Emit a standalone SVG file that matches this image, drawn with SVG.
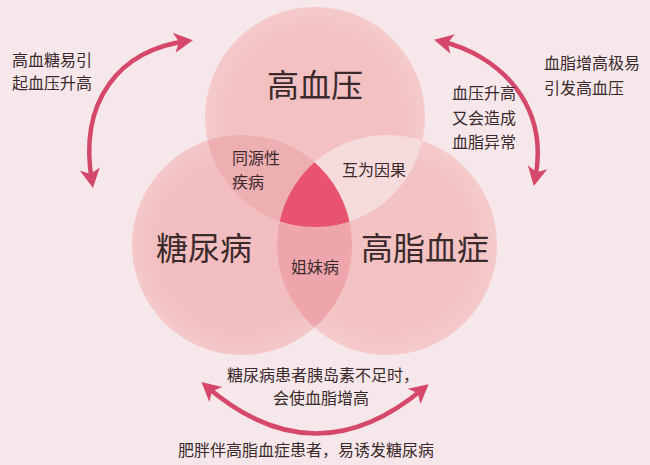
<svg xmlns="http://www.w3.org/2000/svg" width="650" height="465" viewBox="0 0 650 465">
<style>
.t{font-family:"Noto Sans CJK SC","Noto Sans CJK TC",sans-serif;fill:#3b2a2c;}
.big{font-size:32px;}
.sm{font-size:16px;}
.arr{fill:none;stroke:#d6486b;stroke-width:4.5;marker-start:url(#ah);marker-end:url(#ah);}
</style>
<defs>
<marker id="ah" viewBox="-20 -12 30 24" refX="0" refY="0" markerWidth="30" markerHeight="24" markerUnits="userSpaceOnUse" orient="auto-start-reverse">
<path d="M6,0 L-13,-10 L-8,0 L-13,10 Z" fill="#d6486b"/>
</marker>
<clipPath id="cTop"><circle cx="315" cy="117" r="110"/></clipPath>
<clipPath id="cLeft"><circle cx="242" cy="245" r="110"/></clipPath>
<radialGradient id="gTop" cx="0.5" cy="0.5" r="0.5"><stop offset="0.75" stop-color="#f3c1c2"/><stop offset="1" stop-color="#f5cacb"/></radialGradient>
<radialGradient id="gLeft" cx="0.5" cy="0.5" r="0.5"><stop offset="0.75" stop-color="#f2bebf"/><stop offset="1" stop-color="#f4c8c9"/></radialGradient>
<radialGradient id="gRight" cx="0.5" cy="0.5" r="0.5"><stop offset="0.75" stop-color="#f3c2c3"/><stop offset="1" stop-color="#f5cacb"/></radialGradient>
</defs>
<rect width="650" height="465" fill="#f6e8ea"/>
<g id="circles">
<circle id="c-left" cx="242" cy="245" r="110" fill="url(#gLeft)"/>
<circle id="c-right" cx="387" cy="245" r="110" fill="url(#gRight)"/>
<circle id="c-top" cx="315" cy="117" r="110" fill="url(#gTop)"/>
<circle id="ov-top-left" cx="242" cy="245" r="110" fill="#eeafb3" clip-path="url(#cTop)"/>
<circle id="ov-top-right" cx="387" cy="245" r="110" fill="#f6dbdc" clip-path="url(#cTop)"/>
<circle id="ov-left-right" cx="387" cy="245" r="110" fill="#eea6ac" clip-path="url(#cLeft)"/>
<g clip-path="url(#cTop)"><circle id="ov-center" cx="387" cy="245" r="110" fill="#e8536f" clip-path="url(#cLeft)"/></g>
</g>
<g id="connectors">
<path class="arr" d="M187,41 C120,50 78,100 92,182"/>
<path class="arr" d="M440,41 C500,55 550,105 535,180"/>
<path class="arr" d="M206,386 Q315,480 424,388"/>
</g>
<g id="node-gxy"><text class="t big" x="315" y="97" text-anchor="middle">高血压</text></g>
<g id="node-tnb"><text class="t big" x="204" y="260" text-anchor="middle">糖尿病</text></g>
<g id="node-gzxz"><text class="t big" x="425" y="260" text-anchor="middle">高脂血症</text></g>
<g id="label-tyx"><text class="t sm" x="232" y="164">同源性</text><text class="t sm" x="232" y="188">疾病</text></g>
<g id="label-hwyg"><text class="t sm" x="342" y="176">互为因果</text></g>
<g id="label-jmb"><text class="t sm" x="315" y="273" text-anchor="middle">姐妹病</text></g>
<g id="note-left"><text class="t sm" x="12" y="66">高血糖易引</text><text class="t sm" x="12" y="89">起血压升高</text></g>
<g id="note-mid"><text class="t sm" x="452" y="99">血压升高</text><text class="t sm" x="452" y="124">又会造成</text><text class="t sm" x="452" y="148">血脂异常</text></g>
<g id="note-right"><text class="t sm" x="544" y="69">血脂增高极易</text><text class="t sm" x="544" y="94">引发高血压</text></g>
<g id="note-bottom"><text class="t sm" x="227" y="381">糖尿病患者胰岛素不足时，</text><text class="t sm" x="273" y="404">会使血脂增高</text><text class="t sm" x="178" y="456">肥胖伴高脂血症患者，易诱发糖尿病</text></g>
</svg>
